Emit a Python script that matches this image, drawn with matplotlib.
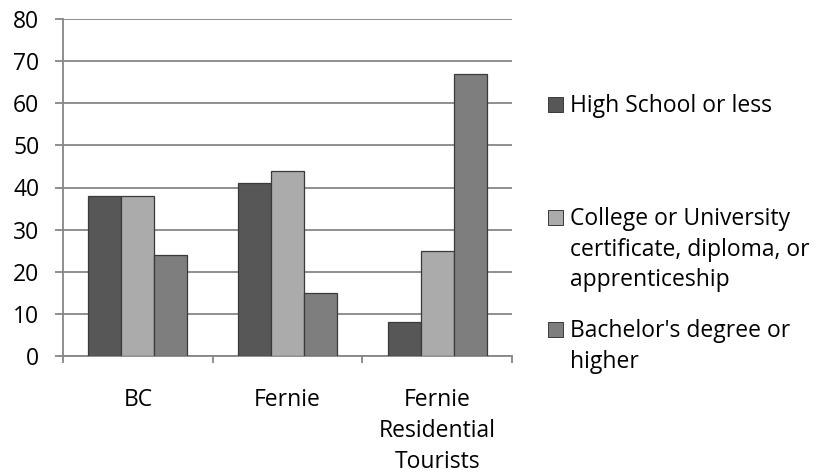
import numpy as np
import matplotlib.pyplot as plt
from matplotlib.patches import Rectangle

categories = ['BC', 'Fernie', 'Fernie\nResidential\nTourists']
series_names = ['High School or less',
                'College or University\ncertificate, diploma, or\napprenticeship',
                "Bachelor's degree or\nhigher"]
high_school = [38, 41, 8]
college = [38, 44, 25]
bachelor = [24, 15, 67]
colors = ['#575757', '#ababab', '#7e7e7e']

plt.rcParams['font.family'] = ['Open Sans', 'DejaVu Sans']
fs = 16.5
W, H = 817, 476

fig = plt.figure(figsize=(W / 100, H / 100), dpi=100)
ax = fig.add_axes([63 / W, 1 - 356 / H, (512 - 63) / W, (356 - 19) / H])

x = np.arange(len(categories))
w = 0.22
for i, vals in enumerate([high_school, college, bachelor]):
    ax.bar(x + (i - 1) * w, vals, width=w, color=colors[i],
           edgecolor='#3a3a3a', linewidth=0.9, zorder=3)

ax.set_xlim(-0.5, 2.5)
ax.set_ylim(0, 80)
ax.set_yticks(range(0, 81, 10))
ax.yaxis.grid(True, color='#868686', linewidth=1.3, zorder=0)
ax.set_xticks(x)
ax.set_xticklabels(categories, fontsize=fs, linespacing=1.38)
ax.set_xticks([-0.5, 0.5, 1.5, 2.5], minor=True)
ax.tick_params(axis='x', which='major', length=0, pad=23)
ax.tick_params(axis='x', which='minor', length=5, width=1.3, color='#868686', direction='out')
ax.tick_params(axis='y', length=6, width=1.3, color='#868686', labelsize=fs, pad=11)
for s in ['top', 'right']:
    ax.spines[s].set_visible(False)
for s in ['left', 'bottom']:
    ax.spines[s].set_color('#868686')
    ax.spines[s].set_linewidth(1.3)

# legend entries, one line of text at a time (baselines in pixels)
first_baselines = [112, 225, 337]
line_step = 30.5
for name, col, b in zip(series_names, colors, first_baselines):
    fig.patches.append(Rectangle((548 / W, 1 - 112 / H + (112 - b) / H), 15 / W, 15 / H,
                                 transform=fig.transFigure, facecolor=col,
                                 edgecolor='#3a3a3a', linewidth=0.7))
    for j, line in enumerate(name.split('\n')):
        fig.text(570 / W, 1 - (b + j * line_step) / H, line, fontsize=fs,
                 va='baseline', ha='left')

fig.savefig('out.png')
